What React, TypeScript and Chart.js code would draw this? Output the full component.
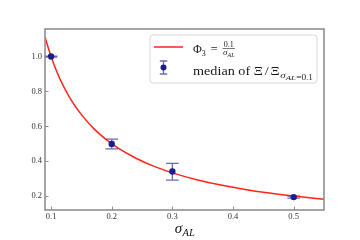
import React, { useEffect, useRef } from 'react';
import { Chart, registerables } from 'chart.js';

Chart.register(...registerables);

// Reference curve Φ3 = 0.1 / σ_AL (values read at sample positions)
const curveSigma = [0.09, 0.10, 0.11, 0.12, 0.13, 0.14, 0.15, 0.17, 0.19, 0.21, 0.24, 0.27, 0.30, 0.34, 0.38, 0.42, 0.46, 0.50, 0.55];
const curvePhi = [1.111, 1.000, 0.909, 0.833, 0.769, 0.714, 0.667, 0.588, 0.526, 0.476, 0.417, 0.370, 0.333, 0.294, 0.263, 0.238, 0.217, 0.200, 0.182];

// Medians with error bars
const sigmaAL = [0.1, 0.2, 0.3, 0.5];
const medianRatio = [1.0, 0.499, 0.341, 0.194];
const errLow = [0.003, 0.029, 0.05, 0.006];
const errHigh = [0.003, 0.028, 0.046, 0.006];

const xTicks = [0.1, 0.2, 0.3, 0.4, 0.5];
const yTicks = [0.2, 0.4, 0.6, 0.8, 1.0];
const xRange = [0.09, 0.55];
const yRange = [0.12, 1.158];

const SERIF = '"Liberation Serif", "DejaVu Serif", serif';
const RED = '#ff2418';
const NAVY = '#1c1c8c';
const ERR = 'rgba(40,40,160,0.7)';
const FRAME = '#8f8f8f';

type Run = { text: string; font: string; dy: number; gap: number };

function drawRuns(ctx: CanvasRenderingContext2D, x0: number, base: number, runs: Run[], target: number) {
  let w = 0;
  const widths: number[] = [];
  for (const r of runs) {
    ctx.font = r.font;
    const m = ctx.measureText(r.text).width;
    widths.push(m);
    w += r.gap + m;
  }
  const s = Math.min(1.4, Math.max(0.8, target / w));
  ctx.save();
  ctx.translate(x0, 0);
  ctx.scale(s, 1);
  let x = 0;
  runs.forEach((r, i) => {
    x += r.gap;
    ctx.font = r.font;
    ctx.fillText(r.text, x, base + r.dy);
    x += widths[i];
  });
  ctx.restore();
}

export default function App() {
  const ref = useRef<HTMLCanvasElement | null>(null);

  useEffect(() => {
    const canvas = ref.current;
    if (!canvas) return;

    const errorBars = {
      id: 'errorBars',
      beforeDatasetsDraw(chart: any) {
        const { ctx, scales } = chart;
        const xs = scales.x, ys = scales.y;
        ctx.save();
        ctx.strokeStyle = ERR;
        ctx.lineWidth = 1.3;
        for (let i = 0; i < sigmaAL.length; i++) {
          const px = xs.getPixelForValue(sigmaAL[i]);
          const yTop = ys.getPixelForValue(medianRatio[i] + errHigh[i]);
          const yBot = ys.getPixelForValue(medianRatio[i] - errLow[i]);
          const cap = 6.3;
          ctx.beginPath();
          ctx.moveTo(px, yTop);
          ctx.lineTo(px, yBot);
          ctx.moveTo(px - cap, yTop);
          ctx.lineTo(px + cap, yTop);
          ctx.moveTo(px - cap, yBot);
          ctx.lineTo(px + cap, yBot);
          ctx.stroke();
        }
        ctx.restore();
      },
    };

    const decor = {
      id: 'decor',
      afterDraw(chart: any) {
        const { ctx, chartArea: a, scales } = chart;
        ctx.save();
        // frame
        ctx.strokeStyle = FRAME;
        ctx.lineWidth = 1.6;
        ctx.strokeRect(a.left, a.top, a.right - a.left, a.bottom - a.top);
        // inward ticks
        ctx.lineWidth = 1;
        ctx.beginPath();
        for (const v of xTicks) {
          const px = Math.round(scales.x.getPixelForValue(v)) + 0.5;
          ctx.moveTo(px, a.bottom);
          ctx.lineTo(px, a.bottom - 3.5);
        }
        for (const v of yTicks) {
          const py = Math.round(scales.y.getPixelForValue(v)) + 0.5;
          ctx.moveTo(a.left, py);
          ctx.lineTo(a.left + 3.5, py);
        }
        ctx.stroke();

        // x axis title σ_AL
        ctx.fillStyle = '#111';
        ctx.textBaseline = 'alphabetic';
        ctx.font = `italic 15px ${SERIF}`;
        const wS = ctx.measureText('σ').width;
        ctx.font = `italic 10.5px ${SERIF}`;
        const wAL = ctx.measureText('AL').width;
        const cx = (a.left + a.right) / 2;
        const tx = cx - (wS + wAL) / 2;
        ctx.font = `italic 15px ${SERIF}`;
        ctx.fillText('σ', tx, 233);
        ctx.font = `italic 10.5px ${SERIF}`;
        ctx.fillText('AL', tx + wS + 0.5, 235.5);

        // legend box
        const bx = a.right - 174, by = a.top + 6, bw = 167, bh = 48, r = 3;
        ctx.beginPath();
        ctx.moveTo(bx + r, by);
        ctx.lineTo(bx + bw - r, by);
        ctx.quadraticCurveTo(bx + bw, by, bx + bw, by + r);
        ctx.lineTo(bx + bw, by + bh - r);
        ctx.quadraticCurveTo(bx + bw, by + bh, bx + bw - r, by + bh);
        ctx.lineTo(bx + r, by + bh);
        ctx.quadraticCurveTo(bx, by + bh, bx, by + bh - r);
        ctx.lineTo(bx, by + r);
        ctx.quadraticCurveTo(bx, by, bx + r, by);
        ctx.closePath();
        ctx.fillStyle = 'rgba(255,255,255,0.85)';
        ctx.fill();
        ctx.strokeStyle = '#d6d6d6';
        ctx.lineWidth = 1;
        ctx.stroke();

        // entry 1: red line + Φ3 = 0.1/σ_AL
        ctx.strokeStyle = RED;
        ctx.lineWidth = 1.5;
        ctx.beginPath();
        ctx.moveTo(bx + 4, by + 12);
        ctx.lineTo(bx + 33, by + 12);
        ctx.stroke();

        ctx.fillStyle = '#1a1a1a';
        let x = bx + 43;
        ctx.font = `12px ${SERIF}`;
        ctx.fillText('Φ', x, by + 18);
        x += ctx.measureText('Φ').width;
        ctx.font = `8px ${SERIF}`;
        ctx.fillText('3', x, by + 20.5);
        x += ctx.measureText('3').width + 5;
        ctx.font = `12px ${SERIF}`;
        ctx.fillText('=', x, by + 17.5);
        x += ctx.measureText('=').width + 5;
        // fraction
        ctx.font = `8px ${SERIF}`;
        const wNum = ctx.measureText('0.1').width;
        ctx.font = `italic 9px ${SERIF}`;
        const wSig = ctx.measureText('σ').width;
        ctx.font = `italic 6px ${SERIF}`;
        const wSub = ctx.measureText('AL').width;
        const wDen = wSig + wSub;
        const fw = Math.max(wNum, wDen) + 1;
        ctx.font = `8px ${SERIF}`;
        ctx.fillText('0.1', x + (fw - wNum) / 2, by + 11.5);
        ctx.strokeStyle = '#1a1a1a';
        ctx.lineWidth = 0.6;
        ctx.beginPath();
        ctx.moveTo(x, by + 13.5);
        ctx.lineTo(x + fw, by + 13.5);
        ctx.stroke();
        const dx = x + (fw - wDen) / 2;
        ctx.font = `italic 9px ${SERIF}`;
        ctx.fillText('σ', dx, by + 20);
        ctx.font = `italic 6px ${SERIF}`;
        ctx.fillText('AL', dx + wSig, by + 21.5);

        // entry 2: error bar marker + text
        const sx = bx + 13.5, sy = by + 32.5;
        ctx.strokeStyle = ERR;
        ctx.lineWidth = 1.3;
        ctx.beginPath();
        ctx.moveTo(sx, sy - 6.5);
        ctx.lineTo(sx, sy + 6.5);
        ctx.moveTo(sx - 3.7, sy - 6.5);
        ctx.lineTo(sx + 3.7, sy - 6.5);
        ctx.moveTo(sx - 3.7, sy + 6.5);
        ctx.lineTo(sx + 3.7, sy + 6.5);
        ctx.stroke();
        ctx.fillStyle = NAVY;
        ctx.beginPath();
        ctx.arc(sx, sy, 3, 0, Math.PI * 2);
        ctx.fill();

        ctx.fillStyle = '#1a1a1a';
        const base = by + 40;
        drawRuns(ctx, bx + 43, base, [
          { text: 'median of ', font: `11.5px ${SERIF}`, dy: 0, gap: 0 },
          { text: 'Ξ', font: `11.5px ${SERIF}`, dy: 0, gap: 0 },
          { text: '/', font: `11.5px ${SERIF}`, dy: 0, gap: 1.5 },
          { text: 'Ξ', font: `11.5px ${SERIF}`, dy: 0, gap: 1.5 },
          { text: 'σ', font: `italic 9px ${SERIF}`, dy: 3, gap: 0.5 },
          { text: 'AL', font: `italic 7px ${SERIF}`, dy: 4.5, gap: 0 },
          { text: '=0.1', font: `7.5px ${SERIF}`, dy: 4.5, gap: 0.3 },
        ], 120);

        ctx.restore();
      },
    };

    const chart = new Chart(canvas, {
      type: 'scatter',
      data: {
        datasets: [
          {
            label: 'Φ3 = 0.1/σ_AL',
            data: curveSigma.map((s, i) => ({ x: s, y: curvePhi[i] })),
            showLine: true,
            borderColor: RED,
            borderWidth: 1.5,
            pointRadius: 0,
            cubicInterpolationMode: 'monotone',
            order: 2,
          } as any,
          {
            label: 'median of Ξ/Ξ σAL=0.1',
            data: sigmaAL.map((s, i) => ({ x: s, y: medianRatio[i] })),
            pointRadius: 3.2,
            pointBackgroundColor: NAVY,
            pointBorderColor: NAVY,
            pointBorderWidth: 0,
            order: 1,
          } as any,
        ],
      },
      plugins: [errorBars, decor],
      options: {
        animation: false,
        responsive: false,
        devicePixelRatio: 1,
        layout: { padding: { top: 29, right: 36, left: 0, bottom: 0 } },
        plugins: {
          legend: { display: false },
          tooltip: { enabled: false },
          title: { display: false },
        },
        scales: {
          x: {
            type: 'linear',
            min: xRange[0],
            max: xRange[1],
            grid: { display: false, drawTicks: false, tickLength: 0 },
            border: { display: false },
            afterBuildTicks: (s: any) => {
              s.ticks = xTicks.map((v) => ({ value: v }));
            },
            afterFit: (s: any) => {
              s.height = 30;
            },
            ticks: {
              padding: 2,
              color: '#333',
              font: { family: SERIF, size: 8.5 },
              maxRotation: 0,
              callback: (v: any) => Number(v).toFixed(1),
            },
          },
          y: {
            type: 'linear',
            min: yRange[0],
            max: yRange[1],
            grid: { display: false, drawTicks: false, tickLength: 0 },
            border: { display: false },
            afterBuildTicks: (s: any) => {
              s.ticks = yTicks.map((v) => ({ value: v }));
            },
            afterFit: (s: any) => {
              s.width = 45;
            },
            ticks: {
              padding: 3,
              color: '#333',
              font: { family: SERIF, size: 8.5 },
              callback: (v: any) => Number(v).toFixed(1),
            },
          },
        },
      } as any,
    });

    return () => chart.destroy();
  }, []);

  return (
    <div style={{ position: 'fixed', left: 0, top: 0, width: 360, height: 240, background: '#fff' }}>
      <canvas ref={ref} width={360} height={240} style={{ display: 'block' }} />
    </div>
  );
}
